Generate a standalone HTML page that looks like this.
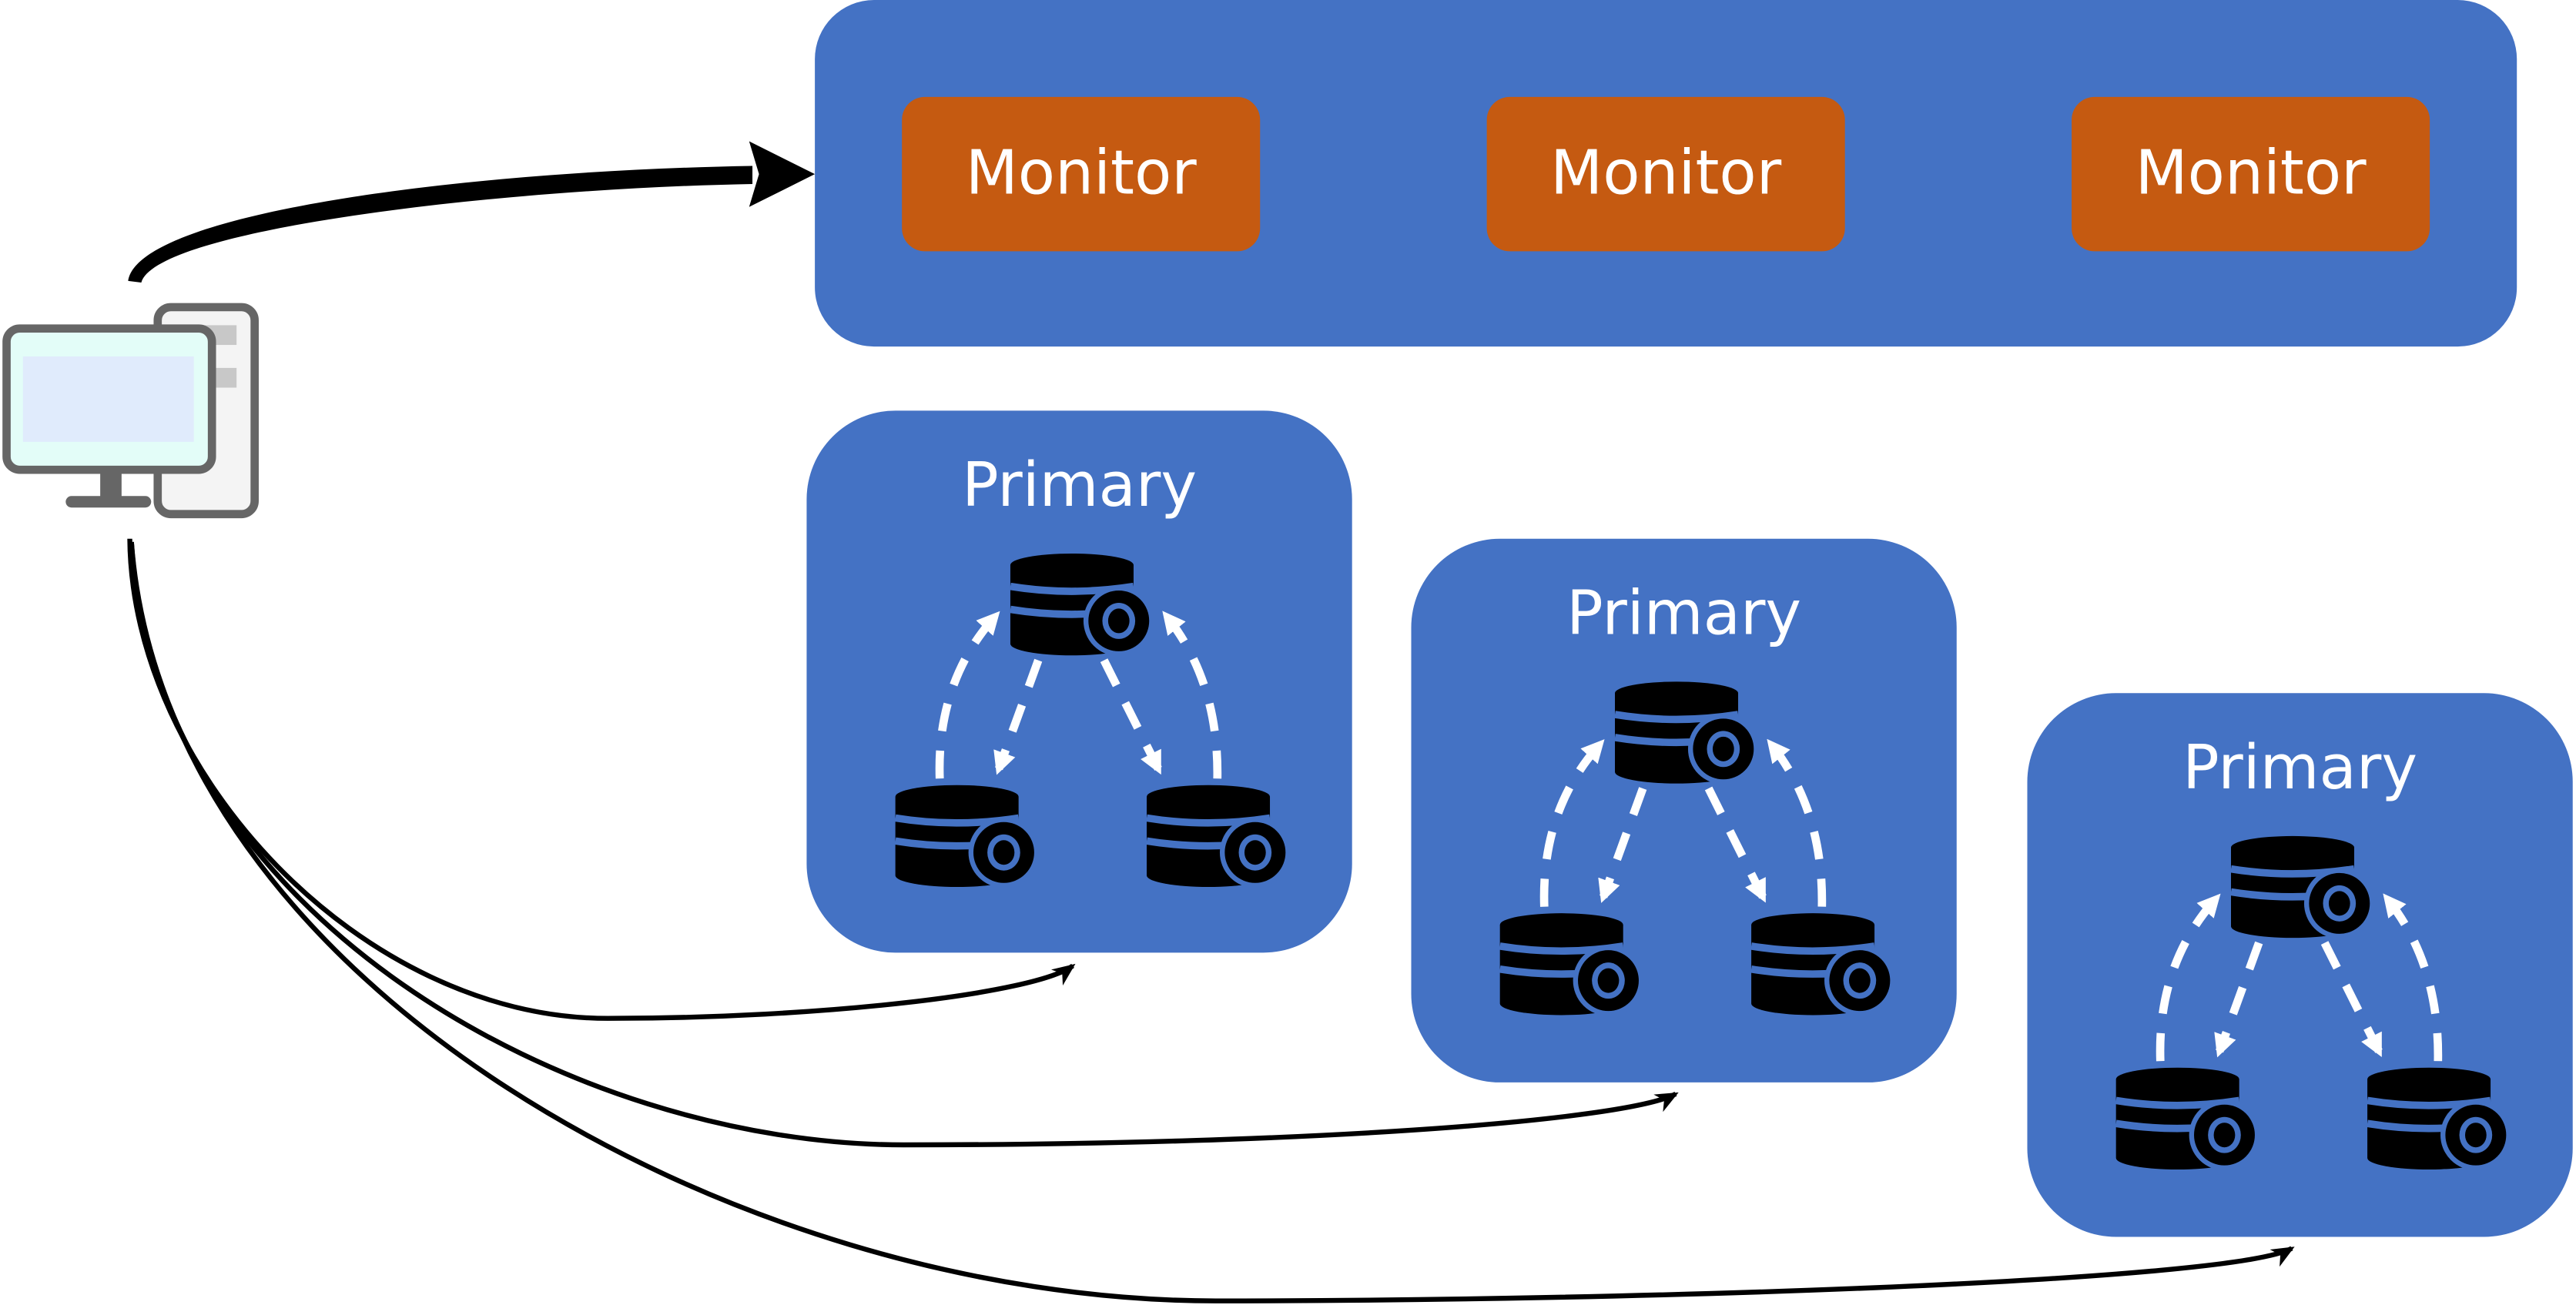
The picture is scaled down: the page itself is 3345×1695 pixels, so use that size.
<!DOCTYPE html>
<html><head><meta charset="utf-8"><style>
html,body{margin:0;padding:0;background:#fff;}
svg{display:block;}
text{font-family:"DejaVu Sans","Liberation Sans",sans-serif;fill:#fff;}
</style></head><body>
<svg width="3345" height="1695" viewBox="0 0 1568 794.5" preserveAspectRatio="none" xmlns="http://www.w3.org/2000/svg">
<defs>
<g id="db">
  <path d="M0,7 A37.5,7 0 0 1 75,7 L75,55 A37.5,7 0 0 1 0,55 Z" fill="#000"/>
  <path d="M0,20 Q37,26 75,20" stroke="#4472C4" stroke-width="4.5" fill="none"/>
  <path d="M0,34 Q37,40 75,34" stroke="#4472C4" stroke-width="4.5" fill="none"/>
  <circle cx="66" cy="41" r="20" fill="#000" stroke="#4472C4" stroke-width="3"/>
  <ellipse cx="66" cy="41" rx="10" ry="11" fill="#4472C4"/>
  <ellipse cx="66" cy="41" rx="6.5" ry="7.5" fill="#000"/>
</g>
<marker id="wa" markerWidth="14" markerHeight="14" refX="10" refY="7" orient="auto" markerUnits="userSpaceOnUse">
  <path d="M0,0 L14,7 L0,14 Z" fill="#fff"/>
</marker>
<marker id="ba" markerWidth="14" markerHeight="12" refX="12" refY="6" orient="auto" markerUnits="userSpaceOnUse">
  <path d="M0,0 L14,6 L0,12 L4,6 Z" fill="#000"/>
</marker>
<g id="cluster">
  <text x="657" y="308" font-size="37" text-anchor="middle">Primary</text>
  <use href="#db" x="615" y="337"/>
  <use href="#db" x="545" y="478"/>
  <use href="#db" x="698" y="478"/>
  <g stroke="#fff" stroke-width="5" fill="none" stroke-dasharray="17 12">
    <path d="M572,474 Q570,415 606,375" marker-end="url(#wa)"/>
    <path d="M632,402 L608,468" marker-end="url(#wa)"/>
    <path d="M672,402 L705,468" marker-end="url(#wa)"/>
    <path d="M741,474 Q742,415 710,375" marker-end="url(#wa)"/>
  </g>
</g>
</defs>

<rect x="496" y="0" width="1036" height="211" rx="36" fill="#4472C4"/>
<rect x="549" y="59" width="218" height="94" rx="14" fill="#C55A11"/>
<rect x="905" y="59" width="218" height="94" rx="14" fill="#C55A11"/>
<rect x="1261" y="59" width="218" height="94" rx="14" fill="#C55A11"/>
<text x="658" y="118" font-size="37" text-anchor="middle">Monitor</text>
<text x="1014" y="118" font-size="37" text-anchor="middle">Monitor</text>
<text x="1370" y="118" font-size="37" text-anchor="middle">Monitor</text>

<rect x="491" y="250" width="332" height="330" rx="54" fill="#4472C4"/>
<rect x="859" y="328" width="332" height="331" rx="54" fill="#4472C4"/>
<rect x="1234" y="422" width="332" height="331" rx="54" fill="#4472C4"/>
<use href="#cluster"/>
<use href="#cluster" x="368" y="78"/>
<use href="#cluster" x="743" y="172"/>

<rect x="96" y="187" width="59" height="126" rx="8" fill="#f4f4f4" stroke="#666" stroke-width="5"/>
<rect x="120" y="198" width="24" height="12" fill="#c8c8c8"/>
<rect x="120" y="224" width="24" height="12" fill="#c8c8c8"/>
<rect x="4" y="200" width="125" height="86" rx="8" fill="#e3fdf8" stroke="#666" stroke-width="5"/>
<rect x="14" y="217" width="104" height="52" fill="#e0ebfc"/>
<rect x="61" y="288" width="13" height="15" fill="#666"/>
<rect x="40" y="302" width="52" height="7" rx="3.5" fill="#666"/>

<path d="M78,171 C84,130 280,104 458,101 L458,112 C300,115 95,140 86,172 Z" fill="#000"/>
<path d="M456,86 L496,106 L456,126 L462,106 Z" fill="#000"/>

<g stroke="#000" stroke-width="3" fill="none">
  <path d="M79,328 C80,470 220,620 370,620 C500,620 630,605 653,588" marker-end="url(#ba)"/>
  <path d="M80,330 C95,560 350,697 550,697 C800,697 990,682 1020,666" marker-end="url(#ba)"/>
  <path d="M80,330 C100,600 450,792 740,792 C1000,792 1360,780 1395,760" marker-end="url(#ba)"/>
</g>
</svg>
</body></html>
